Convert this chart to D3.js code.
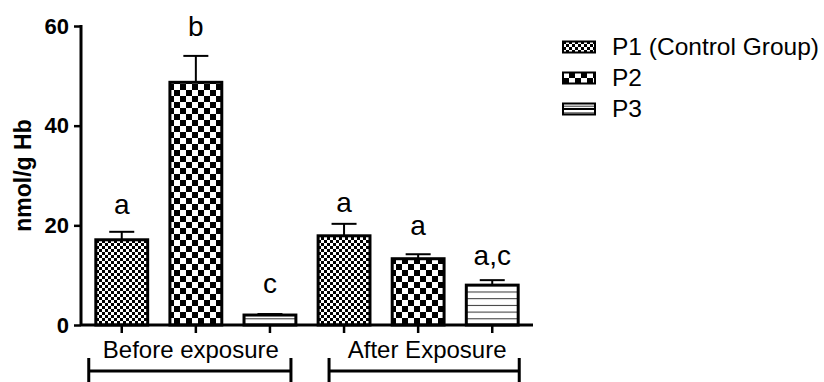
<!DOCTYPE html>
<html>
<head>
<meta charset="utf-8">
<script src="https://cdn.jsdelivr.net/npm/d3@7"></script>
<style>
  body { margin: 0; background: #fff; }
  svg { display: block; font-family: Arial, "Liberation Sans", sans-serif; }
</style>
</head>
<body>
<svg id="chart" width="824" height="382"></svg>
<script>
const groups = ["Before exposure", "After Exposure"];
const series = ["P1 (Control Group)", "P2", "P3"];
const means = [[17.1, 48.7, 2.0], [17.9, 13.3, 8.0]];
const errors = [[1.6, 5.3, 0.2], [2.4, 0.9, 1.0]];
const letters = [["a", "b", "c"], ["a", "a", "a,c"]];
// where each letter's baseline sits, in y units
const letterAt = [[22.2, 57.9, 6.4], [22.7, 18.1, 12.0]];
const yTicks = [0, 20, 40, 60];

const X0 = 81, X1 = 533, Y0 = 325, Y1 = 26;
const BLACK = "#000";

const bars = [];
groups.forEach((g, gi) => series.forEach((s, si) => bars.push({
    id: `${gi}-${si}`, group: gi, series: si,
    value: means[gi][si], err: errors[gi][si],
    letter: letters[gi][si], letterAt: letterAt[gi][si]
})));

const x = d3.scaleBand()
    .domain(bars.map((d) => d.id))
    .range([X0, X1])
    .paddingInner(0.3)
    .paddingOuter(0.2);

const y = d3.scaleLinear()
    .domain([0, 60])
    .range([Y0, Y1]);

const svg = d3.select("#chart");
const defs = svg.append("defs");

// fine checker for P1
const p1 = defs.append("pattern").attr("id", "pat-p1")
    .attr("patternUnits", "userSpaceOnUse").attr("width", 6).attr("height", 6);
p1.append("rect").attr("width", 6).attr("height", 6).attr("fill", "#fff");
p1.append("rect").attr("width", 3).attr("height", 3).attr("fill", BLACK);
p1.append("rect").attr("x", 3).attr("y", 3).attr("width", 3).attr("height", 3).attr("fill", BLACK);

// coarse checker for P2
const p2 = defs.append("pattern").attr("id", "pat-p2")
    .attr("patternUnits", "userSpaceOnUse").attr("width", 12).attr("height", 12);
p2.append("rect").attr("width", 12).attr("height", 12).attr("fill", "#fff");
p2.append("rect").attr("width", 6).attr("height", 6).attr("fill", BLACK);
p2.append("rect").attr("x", 6).attr("y", 6).attr("width", 6).attr("height", 6).attr("fill", BLACK);

// horizontal lines for P3
const p3 = defs.append("pattern").attr("id", "pat-p3")
    .attr("patternUnits", "userSpaceOnUse").attr("width", 10).attr("height", 6.7)
    .attr("y", Y0);
p3.append("rect").attr("width", 10).attr("height", 6.7).attr("fill", "#fff");
p3.append("line").attr("x1", 0).attr("x2", 10).attr("y1", 0.5).attr("y2", 0.5)
    .attr("stroke", "#333").attr("stroke-width", 1);

const fills = ["url(#pat-p1)", "url(#pat-p2)", "url(#pat-p3)"];

// error bars (upper only)
const eb = svg.append("g").attr("stroke", BLACK).attr("stroke-width", 2);
eb.selectAll("line.stem").data(bars).enter().append("line")
    .attr("x1", (d) => x(d.id) + x.bandwidth() / 2)
    .attr("x2", (d) => x(d.id) + x.bandwidth() / 2)
    .attr("y1", (d) => y(d.value))
    .attr("y2", (d) => y(d.value + d.err));
eb.selectAll("line.cap").data(bars).enter().append("line")
    .attr("x1", (d) => x(d.id) + x.bandwidth() / 2 - 12.5)
    .attr("x2", (d) => x(d.id) + x.bandwidth() / 2 + 12.5)
    .attr("y1", (d) => y(d.value + d.err))
    .attr("y2", (d) => y(d.value + d.err));

svg.append("g").selectAll("rect").data(bars).enter().append("rect")
    .attr("x", (d) => x(d.id))
    .attr("y", (d) => y(d.value))
    .attr("width", x.bandwidth())
    .attr("height", (d) => y(0) - y(d.value))
    .attr("fill", (d) => fills[d.series])
    .attr("stroke", BLACK)
    .attr("stroke-width", 3);

// significance letters
svg.append("g").selectAll("text").data(bars).enter().append("text")
    .attr("x", (d) => x(d.id) + x.bandwidth() / 2)
    .attr("y", (d) => y(d.letterAt))
    .attr("text-anchor", "middle")
    .attr("font-size", 28)
    .text((d) => d.letter);

// y axis
const yAxis = svg.append("g")
    .attr("transform", `translate(${X0},0)`)
    .call(d3.axisLeft(y).tickValues(yTicks).tickSize(7).tickPadding(5));
yAxis.select(".domain").attr("stroke-width", 3).attr("d", `M0,${Y1 - 1}V${Y0}`);
yAxis.selectAll(".tick line").attr("stroke-width", 2.5);
yAxis.selectAll(".tick text")
    .attr("font-family", "Arial, 'Liberation Sans', sans-serif")
    .attr("font-size", 22).attr("font-weight", "bold").attr("fill", BLACK);

// x axis
const xAxis = svg.append("g")
    .attr("transform", `translate(0,${Y0})`)
    .call(d3.axisBottom(x).tickSize(8).tickFormat(""));
xAxis.select(".domain").attr("stroke-width", 3).attr("d", `M${X0},0H${X1}`);
xAxis.selectAll(".tick line").attr("stroke-width", 2.5);

svg.append("text")
    .attr("transform", `translate(31,${(Y0 + Y1) / 2}) rotate(-90)`)
    .attr("text-anchor", "middle")
    .attr("font-size", 23)
    .attr("font-weight", "bold")
    .text("nmol/g Hb");

// group labels with brackets
const groupSpan = [
    [x("0-0") + x.bandwidth() / 2 - 33, x("0-2") + x.bandwidth() / 2 + 21],
    [x("1-0") + x.bandwidth() / 2 - 15, x("1-2") + x.bandwidth() / 2 + 27]
];
const gl = svg.append("g");
groups.forEach((g, gi) => {
    const [a, b] = groupSpan[gi];
    gl.append("text")
        .attr("x", gi === 0 ? (a + b) / 2 + 1 : (a + b) / 2 + 3)
        .attr("y", 358)
        .attr("text-anchor", "middle")
        .attr("font-size", 24)
        .text(g);
    gl.append("path")
        .attr("d", `M${a},358V382M${a},371H${b}M${b},358V382`)
        .attr("fill", "none")
        .attr("stroke", BLACK)
        .attr("stroke-width", 3);
});

// legend
const legend = svg.append("g").attr("transform", "translate(563,47)");
const item = legend.selectAll("g").data(series).enter().append("g")
    .attr("transform", (_d, i) => `translate(0,${i * 31})`);
item.append("rect")
    .attr("x", 0).attr("y", -5.5)
    .attr("width", 32).attr("height", 11)
    .attr("fill", (_d, i) => fills[i])
    .attr("stroke", BLACK)
    .attr("stroke-width", 2);
item.filter((_d, i) => i === 2).append("line")
    .attr("x1", 0).attr("x2", 32).attr("y1", 0).attr("y2", 0)
    .attr("stroke", BLACK).attr("stroke-width", 2);
item.append("text")
    .attr("x", 49).attr("y", 8)
    .attr("font-size", 24.5)
    .text((d) => d);
</script>
</body>
</html>
